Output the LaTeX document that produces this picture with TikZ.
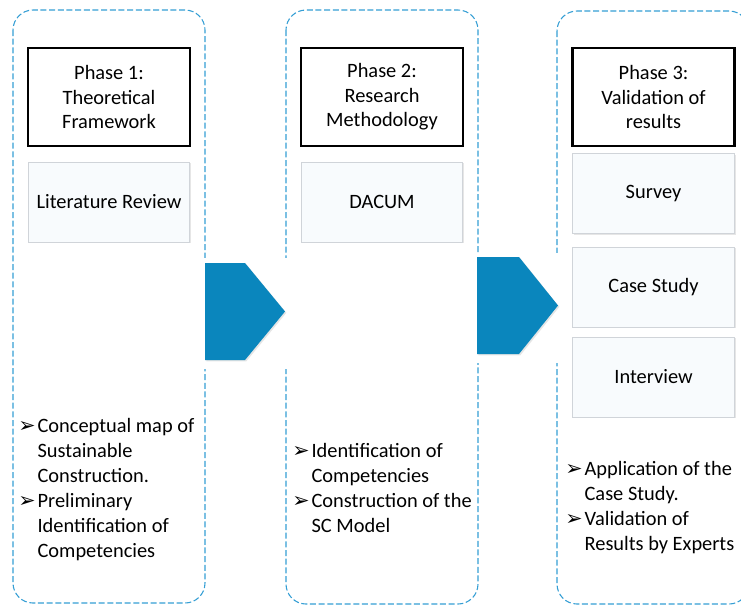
\documentclass[tikz,border=0pt]{standalone}
\usepackage{fontspec}
\usepackage{xcolor}
\setmainfont{Carlito}
\newfontfamily\bulletfont{DejaVu Sans}
\usetikzlibrary{shadows}

\definecolor{dashblue}{RGB}{52,158,212}
\definecolor{chevblue}{RGB}{10,134,189}
\definecolor{paleblue}{RGB}{248,251,253}
\definecolor{boxgray}{RGB}{208,212,217}

\newcommand{\bul}{\makebox[14.5pt][l]{\bulletfont\fontsize{15.5}{15.5}\selectfont\raisebox{-0.4pt}{\char"27A2}}}

\tikzset{
  colbox/.style={draw=dashblue, line width=0.8pt, dash pattern=on 4.5pt off 2pt, rounded corners=15pt},
  phasebox/.style={draw=black, line width=1.6pt, fill=white, minimum width=121.5pt, minimum height=73.5pt, align=center,
    font=\fontsize{15.3}{18.4}\selectfont, drop shadow={shadow xshift=1pt, shadow yshift=-1pt, opacity=0.2}},
  stepbox/.style={draw=boxgray, line width=0.6pt, fill=paleblue, minimum width=121pt, minimum height=60pt,
    font=\fontsize{15.3}{18.4}\selectfont, drop shadow={shadow xshift=1pt, shadow yshift=-1pt, opacity=0.2}},
  chevron/.style={fill=chevblue, drop shadow={shadow xshift=1pt, shadow yshift=-1pt, opacity=0.2}},
  bullets/.style={anchor=base west, inner sep=0pt, font=\fontsize{15.3}{18.75}\selectfont}
}

\begin{document}
\begin{tikzpicture}[x=0.75pt,y=0.75pt,yscale=-1,xscale=1]
\clip (0,0) rectangle (741,608);

%Dashed column boxes
\draw[colbox] (13,10) rectangle (205,603);
\draw[colbox] (286,10) rectangle (478,604);
\draw[colbox] (557,11) rectangle (749,604);

%gaps behind the arrows
\fill[white] (199,258) rectangle (291,369);
\fill[white] (471,253) rectangle (563,363);

%Chevron arrows
\fill[chevron] (205,263) coordinate (a1) -- (245,263) -- (285,311.5) coordinate (t1) -- (245,360) -- (205,360) -- cycle;
\fill[chevron] (477,257) coordinate (a2) -- (519,257) -- (558,305.5) coordinate (t2) -- (519,354) -- (477,354) -- cycle;

% Phase nodes
\node[phasebox] (ph1) at (109,97) {Phase 1:\\Theoretical\\Framework};
\node[phasebox] (ph2) at (382,97) {Phase 2:\\Research\\Methodology};
\node[phasebox] (ph3) at (653.5,97) {Phase 3:\\Validation of\\results};

% Method nodes
\node[stepbox] (litrev) at (109,202) {Literature Review};
\node[stepbox] (dacum) at (382,202) {DACUM};
\node[stepbox] (survey) at (653.5,193.5) {Survey};
\node[stepbox] (casest) at (653.5,287) {Case Study};
\node[stepbox] (interv) at (653.5,377) {Interview};

% Outcome lists
\node[bullets] (out1) at (18,432) {\begin{tabular}[t]{@{}l@{}l@{}}
\bul & Conceptual map of\\ & Sustainable\\ & Construction.\\
\bul & Preliminary\\ & Identification of\\ & Competencies\end{tabular}};
\node[bullets] (out2) at (292,457) {\begin{tabular}[t]{@{}l@{}l@{}}
\bul & Identification of\\ & Competencies\\
\bul & Construction of the\\ & SC Model\end{tabular}};
\node[bullets] (out3) at (565,475) {\begin{tabular}[t]{@{}l@{}l@{}}
\bul & Application of the\\ & Case Study.\\
\bul & Validation of\\ & Results by Experts\end{tabular}};

\end{tikzpicture}
\end{document}
